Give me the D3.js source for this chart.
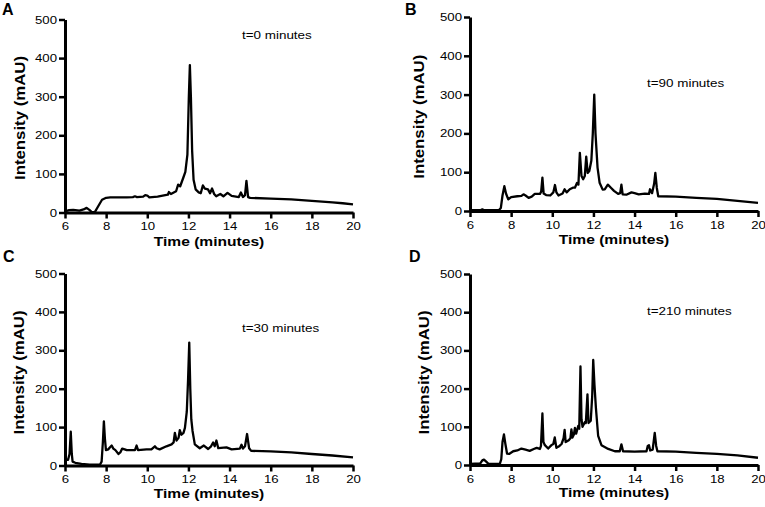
<!DOCTYPE html>
<html>
<head>
<meta charset="utf-8">
<script src="https://cdn.jsdelivr.net/npm/d3@7"></script>
<style>
  html, body { margin: 0; padding: 0; background: #fff; }
  svg { display: block; }
  text { font-family: "Liberation Sans", Arial, sans-serif; fill: #000; }
</style>
</head>
<body>
<svg id="chart" width="765" height="507"></svg>
<script>
// ---------- data ----------
const xTicks = [6, 8, 10, 12, 14, 16, 18, 20];
const yTicks = [0, 100, 200, 300, 400, 500];
const panelLetters = ["A", "B", "C", "D"];
const panelNotes = ["t=0 minutes", "t=90 minutes", "t=30 minutes", "t=210 minutes"];

const timeA = [6.0,6.2,6.4,6.7,6.9,7.05,7.2,7.3,7.45,7.6,7.8,8.0,8.2,9.0,9.3,9.4,9.5,9.8,9.9,10.0,10.1,10.5,11.0,11.05,11.15,11.4,11.5,11.6,11.75,11.85,11.95,12.02,12.07,12.12,12.18,12.25,12.35,12.5,12.6,12.7,12.8,12.95,13.05,13.15,13.25,13.35,13.55,13.7,13.9,14.1,14.45,14.55,14.65,14.75,14.82,14.9,15.0,16.0,17.0,18.0,19.0,19.5,20.0];
const intensityA = [3,6,7,5,8,12,6,1,1,15,33,38,39,39,40,42,40,41,45,44,39,41,46,53,48,55,72,68,90,105,150,300,382,300,160,85,60,52,50,70,62,60,50,62,48,42,48,42,51,43,40,52,40,45,82,40,38,36,34,30,26,24,21];

const timeB = [6.0,6.5,6.6,6.7,7.4,7.5,7.58,7.67,7.75,7.86,8.0,8.3,8.5,8.6,8.7,8.85,9.0,9.15,9.4,9.46,9.52,9.58,9.7,9.9,10.05,10.13,10.2,10.3,10.5,10.6,10.7,10.85,11.0,11.1,11.2,11.27,11.34,11.42,11.5,11.58,11.65,11.72,11.8,11.9,11.97,12.04,12.1,12.2,12.3,12.45,12.55,12.7,12.85,13.0,13.2,13.3,13.36,13.42,13.6,13.85,14.0,14.2,14.5,14.7,14.75,14.85,14.95,15.01,15.08,15.15,16.0,17.0,18.0,19.0,20.0];
const intensityB = [2,2,4,2,2,8,40,64,45,30,36,38,39,43,40,34,37,44,44,50,86,45,41,40,48,67,48,40,45,56,48,56,60,60,72,68,150,90,82,90,140,98,103,130,200,300,200,112,73,55,56,68,60,52,44,46,68,43,42,48,46,43,45,44,56,46,70,98,60,38,37,34,31,26,21];

const timeC = [6.0,6.15,6.22,6.28,6.33,6.37,6.5,6.8,7.2,7.7,7.78,7.84,7.89,7.94,7.99,8.1,8.2,8.27,8.35,8.45,8.6,8.7,8.78,8.9,9.0,9.4,9.48,9.55,9.96,10.2,10.37,10.45,10.6,10.93,11.18,11.28,11.34,11.42,11.52,11.58,11.66,11.76,11.83,11.92,11.98,12.04,12.09,12.14,12.2,12.31,12.55,12.75,12.96,13.1,13.2,13.28,13.36,13.45,13.85,14.1,14.5,14.58,14.65,14.75,14.85,14.95,15.05,16.0,17.0,18.0,19.0,20.0];
const intensityC = [15,15,30,88,30,10,7,4,2,2,10,60,115,70,40,42,48,52,44,40,30,35,44,42,40,40,52,40,42,42,50,45,42,50,55,60,85,65,72,92,80,85,98,140,220,320,200,120,90,55,45,52,43,50,60,50,65,45,47,42,44,54,44,50,82,45,38,37,34,30,26,21];

const timeD = [6.0,6.5,6.6,6.68,6.8,6.9,7.45,7.52,7.58,7.65,7.72,7.8,7.9,8.1,8.3,8.5,8.7,8.9,9.1,9.24,9.4,9.45,9.52,9.57,9.64,9.8,9.96,10.05,10.12,10.2,10.35,10.45,10.55,10.6,10.65,10.8,10.88,10.93,10.98,11.05,11.1,11.16,11.26,11.31,11.37,11.42,11.47,11.58,11.63,11.71,11.76,11.87,11.94,11.99,12.05,12.12,12.23,12.39,12.72,13.04,13.28,13.36,13.44,14.0,14.58,14.64,14.7,14.76,14.88,14.98,15.05,15.11,16.0,17.0,18.0,19.0,20.0];
const intensityD = [3,4,12,14,8,3,3,15,60,80,55,30,29,36,38,43,40,37,42,45,42,50,135,60,52,43,52,55,72,45,50,55,70,92,60,65,70,93,72,80,97,82,102,95,258,120,100,112,110,185,110,116,180,275,210,150,76,52,42,36,36,54,36,35,36,50,52,38,40,84,50,36,35,32,29,25,19];

const seriesTimes = [timeA, timeB, timeC, timeD];
const seriesValues = [intensityA, intensityB, intensityC, intensityD];

// ---------- layout ----------
const SX = 1.2; // horizontal text stretch seen in the reference
const layout = [
  { x0: 65,  x1: 353, yTop: 19.5, yBot: 212.5, letter: [2, 15],    note: [242, 39],  yt: [25, 118],   xtOff: 33 },
  { x0: 470, x1: 758, yTop: 17,   yBot: 211,   letter: [405, 15],  note: [647, 87],  yt: [424, 116.7], xtOff: 33 },
  { x0: 65,  x1: 353, yTop: 273.5,yBot: 465.5, letter: [3, 262],   note: [242, 332], yt: [24, 372.5],  xtOff: 32 },
  { x0: 470, x1: 758, yTop: 274,  yBot: 465,   letter: [409, 262], note: [647, 315], yt: [429, 372.5],  xtOff: 32 }
];

const svg = d3.select("#chart");

layout.forEach((L, i) => {
  const x = d3.scaleLinear().domain([6, 20]).range([L.x0, L.x1]);
  const y = d3.scaleLinear().domain([0, 500]).range([L.yBot, L.yTop]);
  const g = svg.append("g");

  // trace
  const pts = seriesTimes[i].map((t, k) => [t, seriesValues[i][k]]);
  g.append("path")
    .datum(pts)
    .attr("fill", "none")
    .attr("stroke", "#000")
    .attr("stroke-width", 2.3)
    .attr("stroke-linejoin", "round")
    .attr("d", d3.line().x(d => x(d[0])).y(d => y(d[1])));

  // y axis
  const ya = g.append("g")
    .attr("transform", `translate(${L.x0},0)`)
    .call(d3.axisLeft(y).tickValues(yTicks).tickSize(6).tickSizeOuter(0).tickPadding(2));
  // x axis
  const xa = g.append("g")
    .attr("transform", `translate(0,${L.yBot})`)
    .call(d3.axisBottom(x).tickValues(xTicks).tickSize(6).tickSizeOuter(0).tickPadding(4));

  [ya, xa].forEach(a => {
    a.select(".domain").attr("stroke", "#000").attr("stroke-width", 3);
    a.selectAll(".tick line").attr("stroke", "#000").attr("stroke-width", 2.5);
    a.selectAll(".tick text")
      .attr("font-family", "Liberation Sans, Arial, sans-serif")
      .attr("font-size", 11).attr("fill", "#000")
      .attr("transform", `scale(${SX},1)`);
  });
  ya.selectAll(".tick text").attr("x", -8 / SX);

  // axis titles
  g.append("text")
    .attr("transform", `translate(${(L.x0 + L.x1) / 2},${L.yBot + L.xtOff}) scale(${SX},1)`)
    .attr("text-anchor", "middle")
    .attr("font-weight", "bold")
    .attr("font-size", 13)
    .text("Time (minutes)");

  g.append("text")
    .attr("transform", `translate(${L.yt[0]},${L.yt[1]}) rotate(-90) scale(${SX},1)`)
    .attr("text-anchor", "middle")
    .attr("font-weight", "bold")
    .attr("font-size", 14)
    .text("Intensity (mAU)");

  // panel letter
  g.append("text")
    .attr("x", L.letter[0])
    .attr("y", L.letter[1])
    .attr("font-weight", "bold")
    .attr("font-size", 16)
    .text(panelLetters[i]);

  // annotation
  g.append("text")
    .attr("transform", `translate(${L.note[0]},${L.note[1]}) scale(${SX},1)`)
    .attr("font-size", 11.2)
    .text(panelNotes[i]);
});
</script>
</body>
</html>
